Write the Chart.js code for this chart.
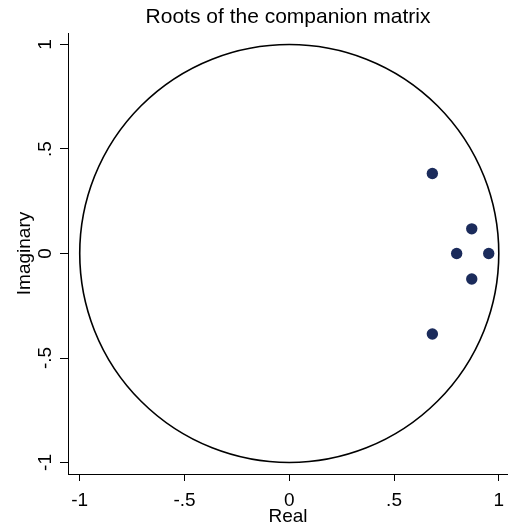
<!DOCTYPE html>
<html>
<head>
<meta charset="utf-8">
<script src="https://cdn.jsdelivr.net/npm/chart.js@4"></script>
<style>
  html, body { margin: 0; padding: 0; background: #fff; }
  #wrap { width: 508px; height: 525px; }
</style>
</head>
<body>
<div id="wrap"><canvas id="rootsChart"></canvas></div>
<script>
// roots
var realParts = [0.683, 0.683, 0.871, 0.871, 0.799, 0.952];
var imagParts = [0.383, -0.385, 0.118, -0.122, 0.0, 0.0];
var tickValues = [-1, -0.5, 0, 0.5, 1];
var unitRadius = 1;

function stataLabel(v) {
    if (v === 0) return "0";
    return String(v).replace("0.", ".");
}

// unit circle drawn with the scales
var unitCircle = {
    id: "unitCircle",
    beforeDatasetsDraw: function (chart) {
        var x = chart.scales.x, y = chart.scales.y, ctx = chart.ctx;
        var cx = x.getPixelForValue(0), cy = y.getPixelForValue(0);
        var rx = x.getPixelForValue(unitRadius) - cx;
        var ry = cy - y.getPixelForValue(unitRadius);
        ctx.save();
        ctx.beginPath();
        ctx.ellipse(cx, cy, rx, ry, 0, 0, Math.PI * 2);
        ctx.strokeStyle = "#000";
        ctx.lineWidth = 1.6;
        ctx.stroke();
        ctx.restore();
    }
};

Chart.defaults.font.family = "'Liberation Sans', Arial, sans-serif";
Chart.defaults.color = "#000";

var ctx = document.getElementById("rootsChart").getContext("2d");
var chart = new Chart(ctx, {
    type: "scatter",
    data: {
        datasets: [{
            data: realParts.map(function (r, i) { return { x: r, y: imagParts[i] }; }),
            backgroundColor: "#1b2b5b",
            borderWidth: 0,
            pointRadius: 5.7,
            pointHoverRadius: 5.7
        }]
    },
    options: {
        responsive: true,
        maintainAspectRatio: false,
        animation: false,
        layout: { padding: 0, autoPadding: false },
        plugins: {
            legend: { display: false },
            tooltip: { enabled: false },
            title: {
                display: true,
                text: "Roots of the companion matrix",
                fullSize: false,
                font: { size: 21, weight: "normal" },
                color: "#000",
                padding: { top: 4.4, bottom: 3.4 }
            }
        },
        scales: {
            x: {
                type: "linear",
                min: -1.056,
                max: 1.044,
                afterBuildTicks: function (scale) {
                    scale.ticks = tickValues.map(function (v) { return { value: v }; });
                },
                afterFit: function (scale) {
                    scale.height = 51;
                    scale.paddingLeft = 0;
                    scale.paddingRight = 0;
                },
                ticks: {
                    font: { size: 19 },
                    color: "#000",
                    padding: 8,
                    maxRotation: 0,
                    callback: function (v) { return stataLabel(v); }
                },
                grid: {
                    drawOnChartArea: false,
                    drawTicks: true,
                    tickLength: 7,
                    color: "#000"
                },
                border: { display: true, color: "#000", width: 1 },
                title: {
                    display: true,
                    text: "Real",
                    font: { size: 19, lineHeight: 0.85 },
                    color: "#000",
                    padding: { top: 0, bottom: 0 }
                }
            },
            y: {
                type: "linear",
                min: -1.055,
                max: 1.055,
                afterBuildTicks: function (scale) {
                    scale.ticks = tickValues.map(function (v) { return { value: v }; });
                },
                afterFit: function (scale) {
                    scale.width = 68;
                    scale.paddingTop = 0;
                    scale.paddingBottom = 0;
                },
                ticks: {
                    font: { size: 19 },
                    color: "#000",
                    padding: 3,
                    minRotation: 90,
                    maxRotation: 90,
                    crossAlign: "center",
                    callback: function (v) { return stataLabel(v); }
                },
                grid: {
                    drawOnChartArea: false,
                    drawTicks: true,
                    tickLength: 8,
                    color: "#000"
                },
                border: { display: true, color: "#000", width: 1 },
                title: {
                    display: true,
                    text: "Imaginary",
                    font: { size: 19 },
                    color: "#000",
                    padding: { top: 13.6, bottom: 0 }
                }
            }
        }
    },
    plugins: [unitCircle]
});
</script>
</body>
</html>
